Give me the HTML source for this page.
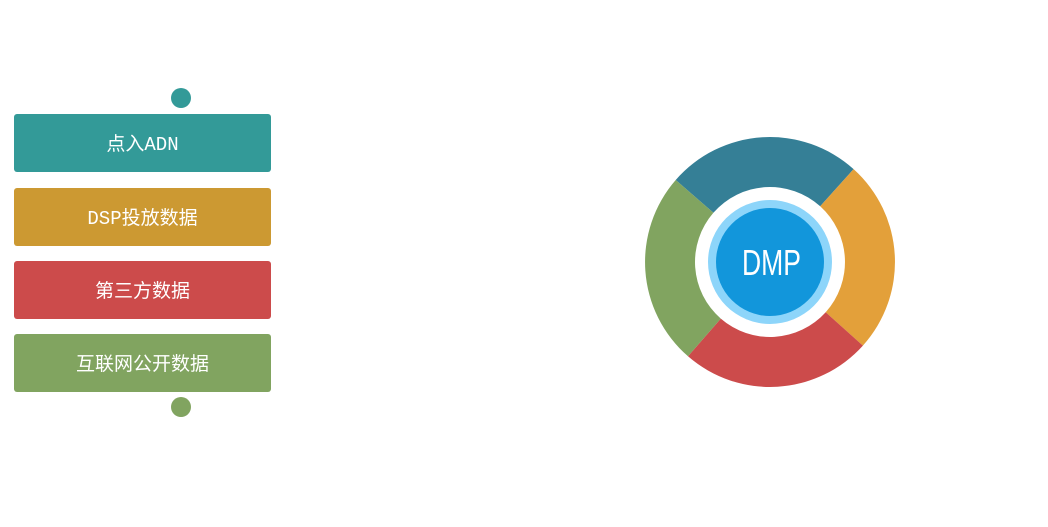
<!DOCTYPE html>
<html><head><meta charset="utf-8"><style>
body{margin:0;width:1048px;height:527px;background:#fff;position:relative;overflow:hidden;font-family:"Liberation Mono","Noto Sans CJK SC",monospace}
.b{position:absolute;left:14px;width:257px;height:58px;border-radius:3px;color:#fff;font-size:19px;line-height:62px;text-align:center}
.d{position:absolute;width:20px;height:20px;border-radius:50%}
</style></head><body>
<div class="d" style="left:171px;top:88px;background:#339a98"></div>
<div class="b" style="top:114px;background:#339a98">点入ADN</div>
<div class="b" style="top:188px;background:#cc9932">DSP投放数据</div>
<div class="b" style="top:261px;background:#cc4b4b">第三方数据</div>
<div class="b" style="top:334px;background:#81a460">互联网公开数据</div>
<div class="d" style="left:171px;top:397px;background:#81a460"></div>
<svg width="1048" height="527" style="position:absolute;left:0;top:0">
<path d="M675.7,180 A125,125 0 0 1 853.6,169.1 L820.2,206.3 A75,75 0 0 0 713.4,212.8Z" fill="#357f96"/>
<path d="M853.6,169.1 A125,125 0 0 1 862.9,345.6 L825.7,312.2 A75,75 0 0 0 820.2,206.3Z" fill="#e3a03a"/>
<path d="M862.9,345.6 A125,125 0 0 1 688,356.3 L720.8,318.6 A75,75 0 0 0 825.7,312.2Z" fill="#cc4b4b"/>
<path d="M688,356.3 A125,125 0 0 1 675.7,180 L713.4,212.8 A75,75 0 0 0 720.8,318.6Z" fill="#81a460"/>
<circle cx="770" cy="262" r="62" fill="#8dd5fa"/>
<circle cx="770" cy="262" r="54" fill="#1296db"/>
<text x="742" y="275" fill="#fff" font-size="36" textLength="59" lengthAdjust="spacingAndGlyphs" font-family="Liberation Sans,sans-serif">DMP</text>
</svg>
</body></html>
